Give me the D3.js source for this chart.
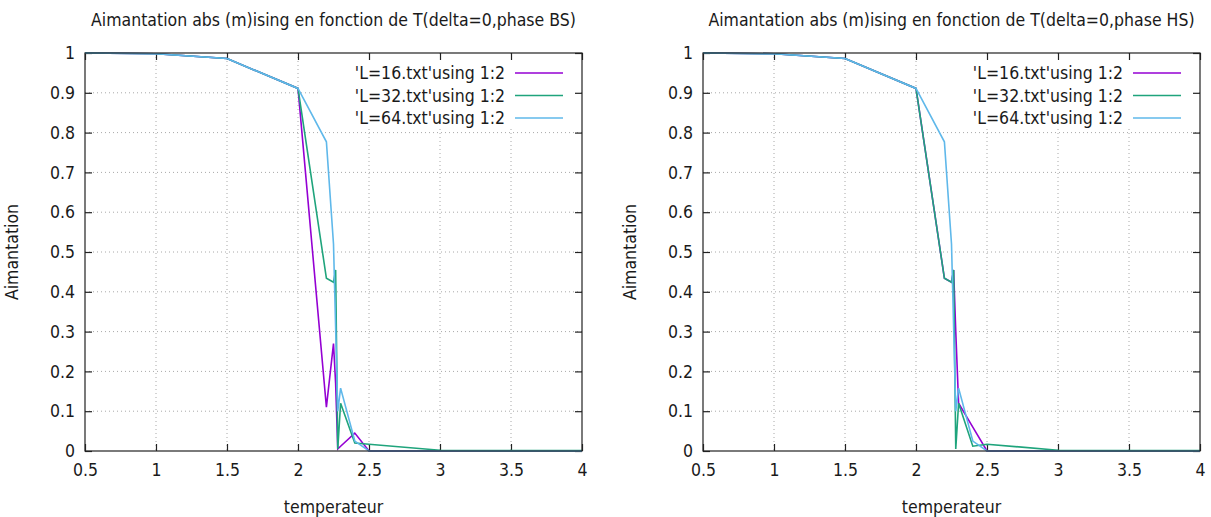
<!DOCTYPE html>
<html>
<head>
<meta charset="utf-8">
<script src="https://cdn.jsdelivr.net/npm/d3@7"></script>
<style>
  html, body { margin: 0; padding: 0; background: #fff; }
  svg { display: block; }
  text { font-family: "DejaVu Sans Condensed", "DejaVu Sans", sans-serif; fill: #1a1a1a; }
</style>
</head>
<body>
<svg id="chart" width="1211" height="517"></svg>
<script>
// Temperatures sampled in the simulations
const temps = [0.5, 1, 1.5, 2, 2.2, 2.25, 2.265, 2.28, 2.3, 2.4, 2.5, 3, 3.5, 4];

// |m| for the BS phase
const bsL16 = [1.0, 0.998, 0.986, 0.911, 0.11, 0.27, 0.17, 0.005, 0.012, 0.045, 0.0, 0.0, 0.0, 0.0];
const bsL32 = [1.0, 0.998, 0.986, 0.911, 0.434, 0.424, 0.455, 0.005, 0.12, 0.02, 0.017, 0.002, 0.001, 0.001];
const bsL64 = [1.0, 0.998, 0.986, 0.911, 0.777, 0.52, 0.31, 0.1, 0.158, 0.025, 0.0, 0.0, 0.0, 0.0];

// |m| for the HS phase
const hsL16 = [1.0, 0.998, 0.986, 0.911, 0.434, 0.424, 0.455, 0.3, 0.12, 0.06, 0.0, 0.0, 0.0, 0.0];
const hsL32 = [1.0, 0.998, 0.986, 0.911, 0.434, 0.424, 0.455, 0.005, 0.12, 0.012, 0.017, 0.002, 0.001, 0.001];
const hsL64 = [1.0, 0.998, 0.986, 0.911, 0.777, 0.52, 0.31, 0.1, 0.158, 0.025, 0.0, 0.0, 0.0, 0.0];

const seriesNames = ["'L=16.txt'using 1:2", "'L=32.txt'using 1:2", "'L=64.txt'using 1:2"];
const seriesColors = ["#9400d3", "#1fa47c", "#5fb8ea"];

const xTicks = [0.5, 1, 1.5, 2, 2.5, 3, 3.5, 4];
const yTicks = [0, 0.1, 0.2, 0.3, 0.4, 0.5, 0.6, 0.7, 0.8, 0.9, 1];

const FONT = 17.5;
const svg = d3.select("#chart");

function panel(left, right, title, values) {
  const top = 53, bottom = 451;
  const x = d3.scaleLinear().domain([0.5, 4]).range([left, right]);
  const y = d3.scaleLinear().domain([0, 1]).range([bottom, top]);
  const g = svg.append("g");

  // dotted grid
  g.append("g").selectAll("line").data(xTicks.slice(1, -1)).join("line")
    .attr("x1", d => x(d)).attr("x2", d => x(d)).attr("y1", top).attr("y2", bottom)
    .attr("stroke", "#a8a8a8").attr("stroke-width", 1).attr("stroke-dasharray", "1,3");
  g.append("g").selectAll("line").data(yTicks.slice(1, -1)).join("line")
    .attr("x1", left).attr("x2", right).attr("y1", d => y(d)).attr("y2", d => y(d))
    .attr("stroke", "#a8a8a8").attr("stroke-width", 1).attr("stroke-dasharray", "1,3");

  // key background hides the grid behind it
  const keyRight = right;
  g.append("rect").attr("x", keyRight - 263).attr("y", top + 3)
    .attr("width", 262).attr("height", 72).attr("fill", "#fff");

  // axes with inward ticks on all four sides
  const tick = 7;
  g.append("g").attr("transform", `translate(0,${bottom})`)
    .call(d3.axisBottom(x).tickValues(xTicks).tickSize(-tick).tickPadding(13).tickFormat(d3.format("")))
    .call(a => a.select(".domain").remove());
  g.append("g").attr("transform", `translate(0,${top})`)
    .call(d3.axisTop(x).tickValues(xTicks).tickSize(-tick).tickFormat(""))
    .call(a => a.select(".domain").remove());
  g.append("g").attr("transform", `translate(${left},0)`)
    .call(d3.axisLeft(y).tickValues(yTicks).tickSize(-tick).tickPadding(10).tickFormat(d3.format("")))
    .call(a => a.select(".domain").remove());
  g.append("g").attr("transform", `translate(${right},0)`)
    .call(d3.axisRight(y).tickValues(yTicks).tickSize(-tick).tickFormat(""))
    .call(a => a.select(".domain").remove());
  g.selectAll(".tick line").attr("stroke", "#222").attr("stroke-width", 1.2);
  g.selectAll(".tick text").attr("font-size", FONT)
    .attr("font-family", "'DejaVu Sans Condensed', 'DejaVu Sans', sans-serif").attr("fill", "#1a1a1a");

  // data lines
  const line = d3.line().x((d, i) => x(temps[i])).y(d => y(d));
  values.forEach((vals, k) => {
    g.append("path").datum(vals).attr("d", line)
      .attr("fill", "none").attr("stroke", seriesColors[k])
      .attr("stroke-width", 1.6).attr("stroke-linejoin", "miter");
  });

  // frame
  g.append("rect").attr("x", left).attr("y", top).attr("width", right - left).attr("height", bottom - top)
    .attr("fill", "none").attr("stroke", "#222").attr("stroke-width", 1.2);

  // key
  seriesNames.forEach((name, k) => {
    const cy = 73 + k * 22.5;
    g.append("text").attr("x", keyRight - 77).attr("y", cy + 6)
      .attr("text-anchor", "end").attr("font-size", FONT).text(name);
    g.append("line").attr("x1", keyRight - 67).attr("x2", keyRight - 19)
      .attr("y1", cy).attr("y2", cy).attr("stroke", seriesColors[k]).attr("stroke-width", 1.6);
  });

  // titles
  const cx = (left + right) / 2;
  g.append("text").attr("x", cx).attr("y", 26).attr("text-anchor", "middle")
    .attr("font-size", FONT).text(title);
  g.append("text").attr("x", cx).attr("y", 513).attr("text-anchor", "middle")
    .attr("font-size", FONT).text("temperateur");
  g.append("text").attr("transform", `translate(${left - 67},${(top + bottom) / 2}) rotate(-90)`)
    .attr("text-anchor", "middle").attr("font-size", FONT).text("Aimantation");
}

panel(85, 582, "Aimantation abs (m)ising en fonction de T(delta=0,phase BS)", [bsL16, bsL32, bsL64]);
panel(703, 1200, "Aimantation abs (m)ising en fonction de T(delta=0,phase HS)", [hsL16, hsL32, hsL64]);
</script>
</body>
</html>
